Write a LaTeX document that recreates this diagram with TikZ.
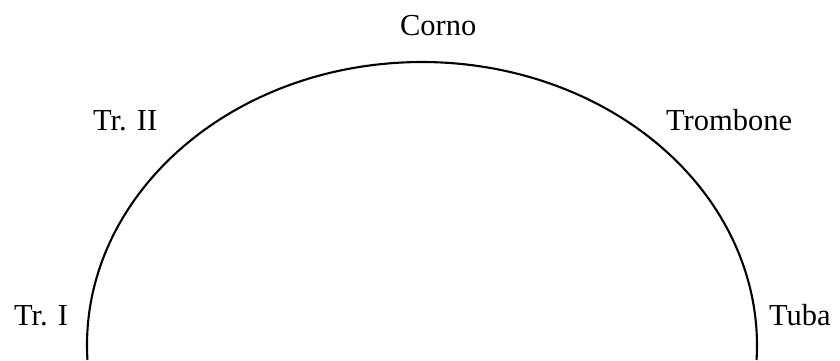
\documentclass[tikz,border=0pt]{standalone}
\usepackage{fontspec}
\setmainfont{Liberation Serif}
\begin{document}
\begin{tikzpicture}[x=1pt, y=1pt, line width=2.1pt]
  \tikzset{instr/.style={inner sep=0pt, anchor=base west, font=\fontsize{30.5}{36}\selectfont}}
  \useasboundingbox (0,0) rectangle (840,360);

  % Centre of the half ellipse (a = 335, b = 283.4)
  \coordinate (C) at (422,14.6);
  \draw ([shift={(182.95:335 and 283.4)}]C) arc[start angle=182.95, end angle=-2.95, x radius=335, y radius=283.4];

  % Instruments round the arc
  \node[instr] (corno) at (399,325) {Corno};
  \node[instr] (trII) at (92,230) {Tr. II};
  \node[instr] (trombone) at (665,230) {Trombone};
  \node[instr] (trI) at (13,35) {Tr. I};
  \node[instr] (tuba) at (768,35) {Tuba};
\end{tikzpicture}
\end{document}
